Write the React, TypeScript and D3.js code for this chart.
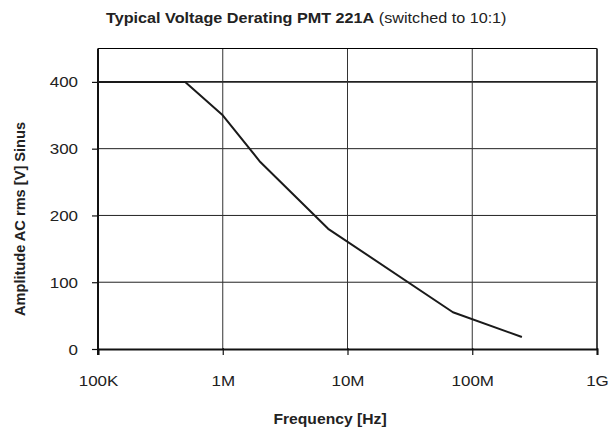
import { useEffect, useRef } from 'react';
import * as d3 from 'd3';

// frequency in Hz, amplitude in V rms
const freqs = [1e5, 5e5, 1e6, 2e6, 7e6, 7e7, 2.5e8];
const volts = [400, 400, 350, 280, 180, 55, 18];

const xTicks = [1e5, 1e6, 1e7, 1e8, 1e9];
const xTickLabels = ['100K', '1M', '10M', '100M', '1G'];
const yTicks = [0, 100, 200, 300, 400];

export default function App() {
  const svgRef = useRef<SVGSVGElement>(null);

  useEffect(() => {
    if (!svgRef.current) return;
    const svg = d3.select(svgRef.current);
    svg.selectAll('*').remove();

    const W = 609;
    const H = 428;
    const margin = { top: 48.5, right: 12, bottom: 79, left: 98 };
    const width = W - margin.left - margin.right;
    const height = H - margin.top - margin.bottom;

    const x = d3.scaleLog().domain([1e5, 1e9]).range([0, width]);
    const y = d3.scaleLinear().domain([0, 450]).range([height, 0]);

    const font = 'Arial, "Liberation Sans", Helvetica, sans-serif';
    const stretch = 1.17; // text in the original is a bit wider than Arial

    svg.append('rect').attr('width', W).attr('height', H).attr('fill', '#fff');

    // title
    const title = svg.append('text')
      .attr('transform', `translate(106,22.5) scale(1.157,1)`)
      .attr('font-family', font)
      .attr('font-size', 14)
      .attr('fill', '#222');
    title.append('tspan').attr('font-weight', 'bold').text('Typical Voltage Derating PMT 221A');
    title.append('tspan').text(' (switched to 10:1)');

    const g = svg.append('g')
      .attr('transform', `translate(${margin.left},${margin.top})`);

    // grid
    g.append('g')
      .selectAll('line')
      .data(yTicks.slice(1))
      .enter().append('line')
      .attr('x1', 0).attr('x2', width)
      .attr('y1', d => y(d)).attr('y2', d => y(d))
      .attr('stroke', '#222')
      .attr('stroke-width', d => (d === 400 ? 1.8 : 1));

    g.append('g')
      .selectAll('line')
      .data(xTicks.slice(1, -1))
      .enter().append('line')
      .attr('x1', d => x(d)).attr('x2', d => x(d))
      .attr('y1', 0).attr('y2', height)
      .attr('stroke', '#333')
      .attr('stroke-width', 1);

    // top and right border
    g.append('line')
      .attr('x1', 0).attr('x2', width).attr('y1', 0).attr('y2', 0)
      .attr('stroke', '#000').attr('stroke-width', 1.2);
    g.append('line')
      .attr('x1', width).attr('x2', width).attr('y1', 0).attr('y2', height)
      .attr('stroke', '#444').attr('stroke-width', 2);

    // axes
    const xAxis = g.append('g')
      .attr('transform', `translate(0,${height})`)
      .call(d3.axisBottom(x).tickValues(xTicks).tickFormat((_, i) => xTickLabels[i]).tickSizeOuter(0).tickSize(6));
    xAxis.select('.domain').attr('stroke', '#111').attr('stroke-width', 2);
    xAxis.selectAll('.tick line').attr('stroke', '#111').attr('stroke-width', 1.2).attr('y1', -1);
    xAxis.selectAll('.tick text')
      .attr('y', 0)
      .attr('dy', null)
      .attr('transform', `translate(0,37) scale(${stretch},1)`)
      .attr('font-family', font).attr('font-size', 14.5).attr('fill', '#222');

    const yAxis = g.append('g')
      .call(d3.axisLeft(y).tickValues(yTicks).tickSizeOuter(0).tickSize(6));
    yAxis.select('.domain').attr('stroke', '#111').attr('stroke-width', 2)
      .attr('d', `M0,${height + 6}V0`);
    yAxis.selectAll('.tick line').attr('stroke', '#111').attr('stroke-width', 1.2);
    yAxis.selectAll('.tick text')
      .attr('x', 0)
      .attr('dy', '0.35em')
      .attr('transform', `translate(-20,0) scale(${stretch},1)`)
      .attr('font-family', font).attr('font-size', 14.5).attr('fill', '#222');

    // derating curve
    const line = d3.line<number>()
      .x((_, i) => x(freqs[i]))
      .y(d => y(d));
    g.append('path')
      .datum(volts)
      .attr('d', line)
      .attr('fill', 'none')
      .attr('stroke', '#1a1a1a')
      .attr('stroke-width', 2)
      .attr('stroke-linejoin', 'round');

    // axis titles
    svg.append('text')
      .attr('transform', `translate(330,424) scale(1.12,1)`)
      .attr('text-anchor', 'middle')
      .attr('font-family', font)
      .attr('font-size', 14)
      .attr('font-weight', 'bold')
      .attr('fill', '#222')
      .text('Frequency [Hz]');

    svg.append('text')
      .attr('transform', `translate(25,219) rotate(-90)`)
      .attr('text-anchor', 'middle')
      .attr('font-family', font)
      .attr('font-size', 14.6)
      .attr('font-weight', 'bold')
      .attr('fill', '#222')
      .text('Amplitude AC rms [V] Sinus');
  }, []);

  return (
    <svg
      ref={svgRef}
      width={609}
      height={428}
      viewBox="0 0 609 428"
      style={{ position: 'absolute', left: 0, top: 0 }}
    />
  );
}
